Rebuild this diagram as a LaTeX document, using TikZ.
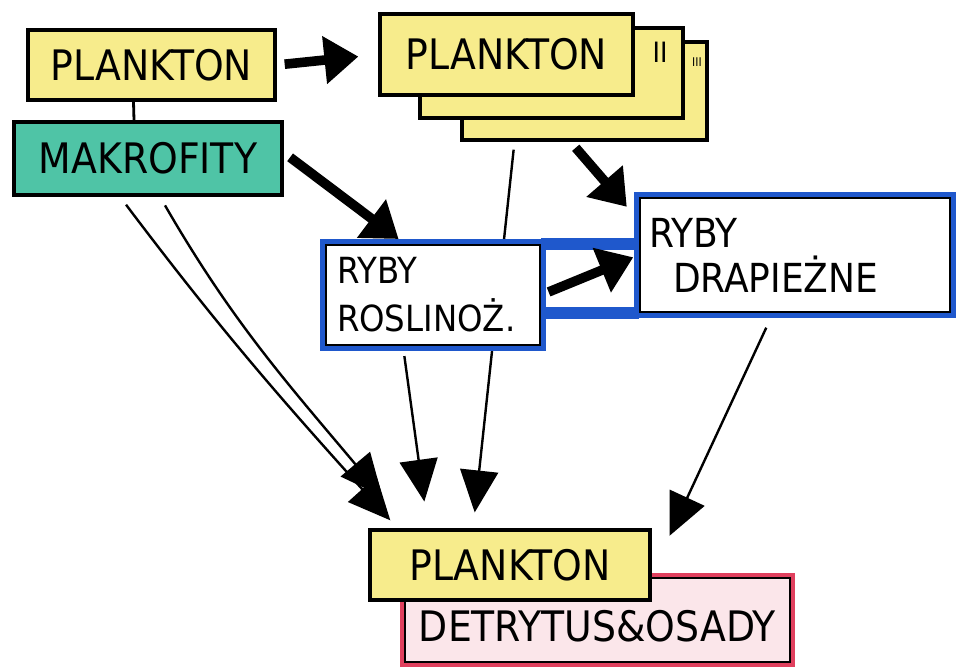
\documentclass[tikz,border=0pt]{standalone}
\usepackage{fontspec}
\setmainfont{DejaVu Sans Condensed}
\usetikzlibrary{arrows.meta,calc}
\definecolor{notey}{HTML}{F7EC8C}
\definecolor{noteg}{HTML}{4FC4A6}
\definecolor{markb}{HTML}{1F58CC}
\definecolor{markr}{HTML}{E0405E}
\definecolor{notep}{HTML}{FBE6EA}
\pgfdeclarelayer{bg}
\pgfsetlayers{bg,main}
\begin{document}
\begin{tikzpicture}[x=0.5pt,y=-0.5pt,
  box/.style={draw=black, line width=1.7pt, inner sep=0pt, font=\fontsize{21}{23}\selectfont},
  ybox/.style={box, fill=notey},
  gbox/.style={box, fill=noteg},
  bbox/.style={box, fill=white, line width=1.2pt, preaction={draw=markb, line width=6pt}, align=left, font=\fontsize{20}{22.5}\selectfont},
  rbox/.style={box, fill=notep, line width=1.2pt, preaction={draw=markr, line width=5pt}},
  thickarrow/.style={line width=4.8pt, -{Triangle[length=17pt,width=23pt]}},
  thinarrow/.style={line width=1.2pt, -{Triangle[length=21pt,width=19pt]}},
  thinlink/.style={line width=1.4pt},
  band/.style={draw=markb, line width=6pt}
]
\useasboundingbox (0,0) rectangle (959,671);

% boxes
\node[rbox, minimum width=192.5pt, minimum height=42pt, text depth=0pt] (detr) at (597.5,620) {\raisebox{-6pt}{DETRYTUS\&OSADY}};
\node[ybox, minimum width=140pt, minimum height=35pt] (plank2) at (510,565) {PLANKTON};

\node[ybox, minimum width=123.5pt, minimum height=35pt] (plank1) at (151.5,65) {PLANKTON};
\node[gbox, minimum width=134pt, minimum height=36.5pt] (makro) at (148,158.5) {MAKROFITY};

\node[ybox, minimum width=122.5pt, minimum height=49pt] (card3) at (584.5,91) {};
\node[ybox, minimum width=131.5pt, minimum height=45pt] (card2) at (551.5,73) {};
\node[ybox, minimum width=126.5pt, minimum height=40.5pt] (stack) at (506.5,54.5) {PLANKTON};
\node[font=\fontsize{14}{14}\selectfont] (lab2) at (660,52) {II};
\node[font=\fontsize{6}{6}\selectfont] (lab3) at (697,62) {III};

\node[bbox, minimum width=107pt, minimum height=50pt, text width=96pt, font=\fontsize{18}{24}\selectfont] (roslin) at (433,295) {RYBY\\ROSLINOŻ.};
\node[bbox, minimum width=155pt, minimum height=57pt, text width=146pt] (drap) at (795,255) {RYBY\\\hspace*{12pt}DRAPIEŻNE};

\begin{pgfonlayer}{bg}
  \draw[band] (roslin.north east) -- (roslin.north east -| drap.west);
  \draw[band] (drap.south west) -- (drap.south west -| roslin.east);
  \draw[thinarrow, shorten <=4pt, shorten >=8pt] ([xshift=-35pt]card3.south) -- ([xshift=-18.5pt]plank2.north);
\end{pgfonlayer}

% connectors
\draw[thinlink] ([xshift=-9pt]plank1.south) -- ([xshift=-7pt]makro.north);
\draw[thickarrow, shorten <=4pt, shorten >=10pt] (plank1.east) -- (stack.west);
\draw[thickarrow, shorten <=4pt, shorten >=4pt] ([yshift=3pt]makro.east) -- ([xshift=-14pt]roslin.north);
\draw[thickarrow, shorten <=4pt] ([xshift=-7pt]card3.south) -- ([xshift=-6pt,yshift=-5pt]drap.north west);
\draw[thickarrow, shorten <=4pt, shorten >=3pt] (roslin.east) -- (drap.west);

\draw[thinarrow, shorten <=5pt, shorten >=13.5pt] ([xshift=-15pt]roslin.south) -- ([xshift=-41pt]plank2.north);
\draw[thinarrow, shorten <=5pt] ([xshift=-14pt]makro.south) to[out=-53,in=132] ([xshift=11pt,yshift=4pt]plank2.north west);
\draw[thinarrow, shorten <=5pt] ([xshift=6pt]makro.south) to[out=-60,in=130] ([xshift=7pt,yshift=16pt]plank2.north west);
\draw[thinarrow, shorten <=8pt] ([xshift=-11pt]drap.south) -- ([xshift=36pt,yshift=20.5pt]detr.north);
\end{tikzpicture}
\end{document}
